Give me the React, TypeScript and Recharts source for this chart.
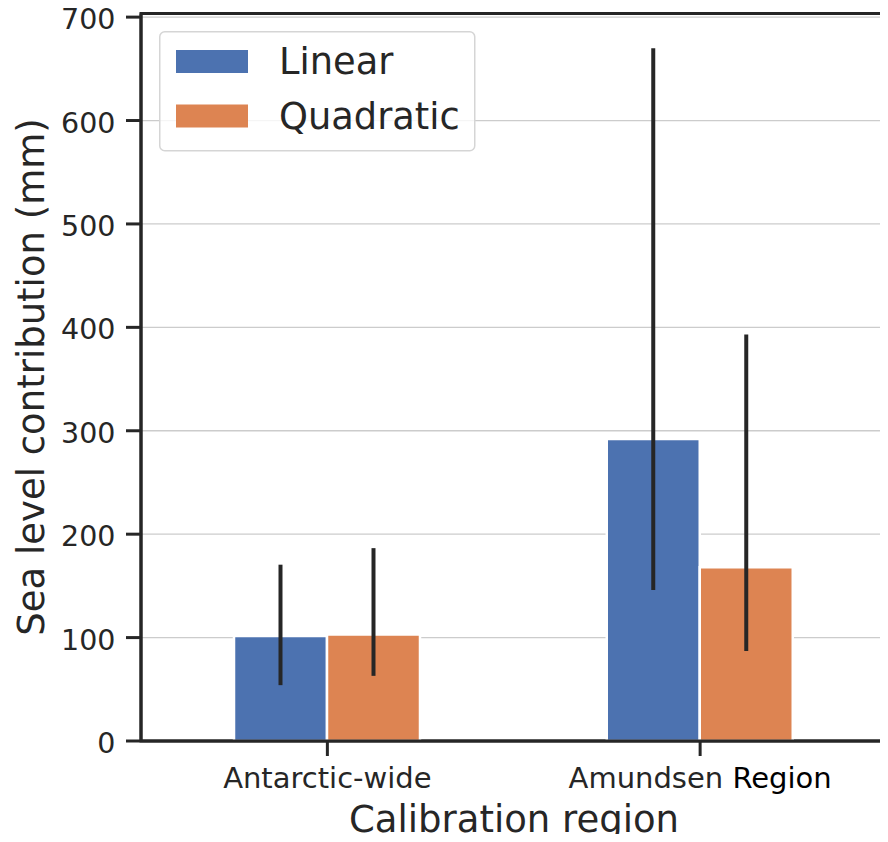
import React from 'react';
import {
  BarChart,
  Bar,
  XAxis,
  YAxis,
  CartesianGrid,
  ErrorBar,
  Legend,
  Label,
  ReferenceArea,
} from 'recharts';

const categories = ['Antarctic-wide', 'Amundsen Region'];
const seriesNames = ['Linear', 'Quadratic'];
const linearValues = [101.5, 292];
const linearLow = [54, 146];
const linearHigh = [170.5, 670];
const quadraticValues = [103, 168];
const quadraticLow = [63, 87];
const quadraticHigh = [186.5, 393];
const yTicks = [0, 100, 200, 300, 400, 500, 600, 700];
const yMax = 703.5;

const BLUE = '#4C72B0';
const ORANGE = '#DD8452';
const INK = '#262626';
const FONT = '"DejaVu Sans", sans-serif';

const data = categories.map((region, i) => ({
  region,
  linear: linearValues[i],
  linearErr: [linearValues[i] - linearLow[i], linearHigh[i] - linearValues[i]],
  quadratic: quadraticValues[i],
  quadraticErr: [quadraticValues[i] - quadraticLow[i], quadraticHigh[i] - quadraticValues[i]],
}));

const XTick = (props: any) => {
  const { x, y, payload } = props;
  const v: string = payload.value;
  const parts = v.split(' ');
  return (
    <text x={x} y={y + 32} textAnchor="middle" fontSize={29} fontFamily={FONT} fill={INK}>
      {parts.length > 1 ? (
        <>
          <tspan>{parts[0] + ' '}</tspan>
          <tspan fill="#000">{parts.slice(1).join(' ')}</tspan>
        </>
      ) : (
        v
      )}
    </text>
  );
};

const YTick = (props: any) => {
  const { x, y, payload } = props;
  return (
    <text x={x - 10.5} y={y + 12} textAnchor="end" fontSize={28.5} fontFamily={FONT} fill={INK}>
      {payload.value}
    </text>
  );
};

const renderLegend = () => {
  const colors = [BLUE, ORANGE];
  return (
    <svg width={317} height={121} style={{ display: 'block' }}>
      <rect x={0.75} y={0.75} width={315} height={119} rx={5} ry={5}
        fill="#ffffff" fillOpacity={0.8} stroke="#d5d5d5" strokeWidth={1.5} />
      {seriesNames.map((name, i) => (
        <g key={name}>
          <rect x={17} y={19 + i * 54.5} width={72} height={23} fill={colors[i]} />
          <text x={120} y={43 + i * 55} fontSize={36.8} fontFamily={FONT} fill={INK}>
            {name}
          </text>
        </g>
      ))}
    </svg>
  );
};

export default function App() {
  return (
    <div style={{ margin: -8, width: 888, height: 842, background: '#fff' }}>
      <BarChart
        width={888}
        height={842}
        data={data}
        margin={{ top: 13.5, right: 1.5, bottom: 0, left: 0 }}
        barGap={0}
      >
        <CartesianGrid vertical={false} stroke="#cccccc" strokeWidth={1.3} />
        <XAxis
          dataKey="region"
          height={101}
          interval={0}
          tickSize={15}
          tickMargin={0}
          tickLine={{ stroke: INK, strokeWidth: 3 }}
          axisLine={{ stroke: INK, strokeWidth: 3 }}
          tick={XTick}
        >
          <Label
            content={() => (
              <text x={514} y={832} textAnchor="middle" fontSize={37} fontFamily={FONT} fill={INK}>
                Calibration region
              </text>
            )}
          />
        </XAxis>
        <YAxis
          width={141}
          domain={[0, yMax]}
          ticks={yTicks}
          interval={0}
          allowDataOverflow
          tickSize={15}
          tickMargin={0}
          tickLine={{ stroke: INK, strokeWidth: 3 }}
          axisLine={{ stroke: INK, strokeWidth: 3 }}
          tick={YTick}
        >
          <Label
            content={() => (
              <g>
                <text
                  x={43.5}
                  y={377}
                  transform="rotate(-90, 43.5, 377)"
                  textAnchor="middle"
                  fontSize={37}
                  fontFamily={FONT}
                  fill={INK}
                >
                  Sea level contribution (mm)
                </text>
                <text x={143} y={-1} fontSize={37} fontFamily={FONT} fill={INK}>
                  (b)
                </text>
              </g>
            )}
          />
        </YAxis>
        <Legend
          layout="vertical"
          align="center"
          verticalAlign="middle"
          wrapperStyle={{ left: 159, top: 31, width: 317, height: 121 }}
          content={renderLegend}
        />
        <Bar dataKey="linear" name={seriesNames[0]} fill={BLUE} stroke="#ffffff" strokeWidth={2.5}
          barSize={93} isAnimationActive={false}>
          <ErrorBar dataKey="linearErr" width={0} strokeWidth={4} stroke={INK} direction="y" />
        </Bar>
        <Bar dataKey="quadratic" name={seriesNames[1]} fill={ORANGE} stroke="#ffffff" strokeWidth={2.5}
          barSize={93} isAnimationActive={false}>
          <ErrorBar dataKey="quadraticErr" width={0} strokeWidth={4} stroke={INK} direction="y" />
        </Bar>
        <ReferenceArea y1={0} y2={yMax} fill="none" fillOpacity={0} stroke={INK} strokeWidth={3}
          ifOverflow="visible" />
      </BarChart>
    </div>
  );
}
